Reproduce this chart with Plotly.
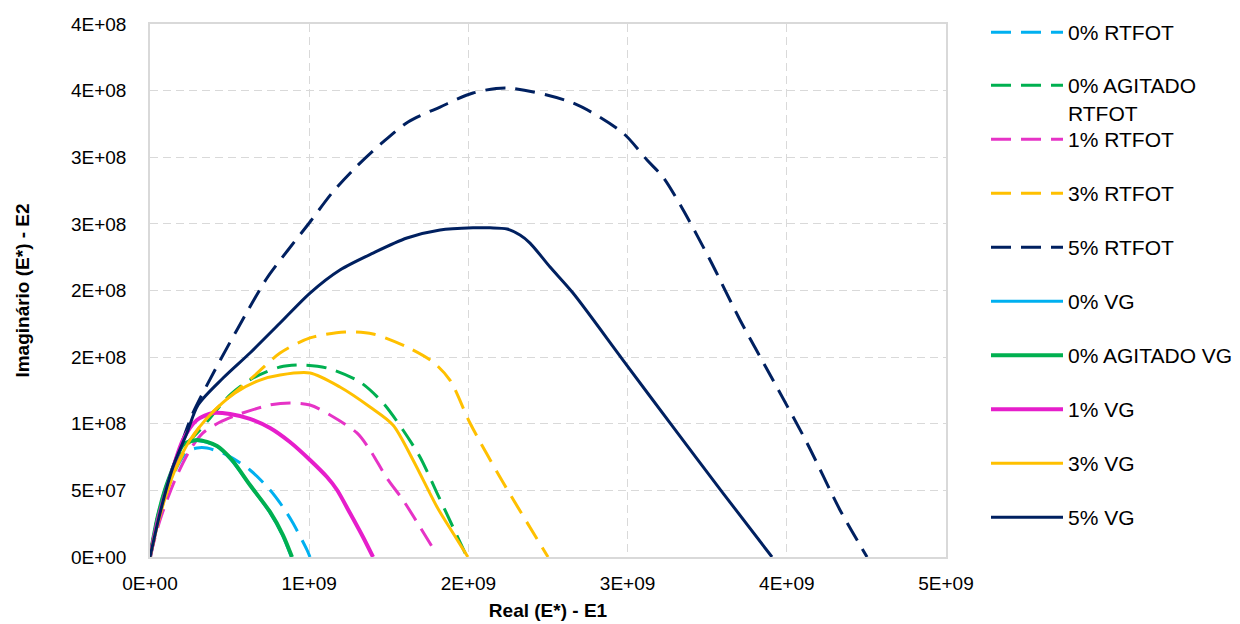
import plotly.graph_objects as go

# ---- data (E1 real, E2 imaginary) ----
names = ["0% RTFOT", "0% AGITADO<br>RTFOT", "1% RTFOT", "3% RTFOT", "5% RTFOT",
         "0% VG", "0% AGITADO VG", "1% VG", "3% VG", "5% VG"]
colors = ["#00B0F0", "#00B050", "#E633C6", "#FFC000", "#002060",
          "#00B0F0", "#00B050", "#E61ECB", "#FFC000", "#002060"]

e1_0_rtfot = [0, 4.4e7, 1.07e8, 1.76e8, 2.32e8, 2.95e8, 3.58e8, 4.84e8, 6.28e8, 7.54e8, 8.35e8, 8.98e8, 9.86e8, 1.005e9]
e2_0_rtfot = [0, 2.63e7, 5.03e7, 6.90e7, 7.88e7, 8.18e7, 8.18e7, 7.65e7, 6.53e7, 5.03e7, 3.75e7, 2.55e7, 0.53e7, 0]

e1_0ag_rtfot = [0, 4.4e7, 1.0e8, 1.6e8, 2.3e8, 3.14e8, 5.03e8, 6.47e8, 8.17e8, 9.61e8, 1.112e9, 1.319e9, 1.464e9, 1.589e9, 1.696e9, 1.803e9, 1.903e9, 1.991e9]
e2_0ag_rtfot = [0, 2.8e7, 5.2e7, 7.2e7, 8.5e7, 9.53e7, 1.216e8, 1.343e8, 1.426e8, 1.441e8, 1.418e8, 1.313e8, 1.156e8, 9.53e7, 7.50e7, 4.80e7, 2.25e7, 0]

e1_1_rtfot = [0, 6.3e7, 1.57e8, 2.51e8, 3.33e8, 4.40e8, 5.46e8, 7.54e8, 8.79e8, 1.005e9, 1.131e9, 1.300e9, 1.382e9, 1.489e9, 1.589e9, 1.696e9, 1.784e9]
e2_1_rtfot = [0, 2.78e7, 5.78e7, 8.03e7, 9.31e7, 1.013e8, 1.066e8, 1.141e8, 1.156e8, 1.141e8, 1.066e8, 9.31e7, 8.03e7, 5.90e7, 4.28e7, 2.25e7, 0.53e7]

e1_3_rtfot = [0, 6.3e7, 1.38e8, 2.20e8, 3.45e8, 4.90e8, 6.47e8, 8.17e8, 1.005e9, 1.225e9, 1.401e9, 1.614e9, 1.778e9, 1.884e9, 2.010e9, 2.198e9, 2.500e9]
e2_3_rtfot = [0, 3.15e7, 5.93e7, 8.03e7, 1.028e8, 1.193e8, 1.351e8, 1.531e8, 1.644e8, 1.689e8, 1.674e8, 1.576e8, 1.463e8, 1.328e8, 1.006e8, 6.00e7, 0]

e1_5_rtfot = [0, 3.1e7, 7.5e7, 1.38e8, 2.01e8, 2.70e8, 4.08e8, 5.53e8, 7.35e8, 8.67e8, 1.005e9, 1.143e9, 1.288e9, 1.457e9, 1.621e9, 1.822e9, 2.029e9, 2.243e9, 2.657e9, 2.971e9, 3.122e9, 3.222e9, 3.342e9, 3.518e9, 3.706e9, 3.913e9, 4.127e9, 4.334e9, 4.504e9]
e2_5_rtfot = [0, 2.03e7, 4.28e7, 6.53e7, 8.63e7, 1.081e8, 1.403e8, 1.719e8, 2.094e8, 2.304e8, 2.514e8, 2.732e8, 2.919e8, 3.107e8, 3.265e8, 3.377e8, 3.482e8, 3.520e8, 3.407e8, 3.182e8, 2.979e8, 2.852e8, 2.619e8, 2.229e8, 1.779e8, 1.328e8, 8.56e7, 3.53e7, 0]

e1_0_vg = [0, 4.4e7, 9.4e7, 1.57e8, 2.07e8, 2.90e8, 4.15e8, 5.10e8, 6.25e8, 7.50e8, 8.30e8, 8.88e8]
e2_0_vg = [0, 2.78e7, 5.03e7, 7.05e7, 8.41e7, 8.75e7, 8.35e7, 7.28e7, 5.45e7, 3.40e7, 1.70e7, 0]

e1_0ag_vg = [0, 4.4e7, 9.4e7, 1.57e8, 2.07e8, 2.95e8, 4.21e8, 5.15e8, 6.28e8, 7.54e8, 8.35e8, 8.92e8]
e2_0ag_vg = [0, 2.78e7, 5.03e7, 7.05e7, 8.41e7, 8.78e7, 8.33e7, 7.28e7, 5.40e7, 3.38e7, 1.65e7, 0]

e1_1_vg = [0, 5.0e7, 1.13e8, 2.07e8, 2.95e8, 3.96e8, 5.03e8, 6.28e8, 7.54e8, 8.79e8, 1.005e9, 1.112e9, 1.175e9, 1.256e9, 1.338e9, 1.401e9]
e2_1_vg = [0, 2.78e7, 5.40e7, 8.78e7, 1.028e8, 1.081e8, 1.073e8, 1.036e8, 9.68e7, 8.63e7, 7.28e7, 6.00e7, 5.03e7, 3.30e7, 1.50e7, 0]

e1_3_vg = [0, 6.3e7, 1.57e8, 2.51e8, 3.77e8, 5.34e8, 6.91e8, 8.17e8, 1.005e9, 1.193e9, 1.382e9, 1.526e9, 1.652e9, 1.803e9, 1.903e9, 1.997e9]
e2_3_vg = [0, 3.15e7, 6.53e7, 8.78e7, 1.066e8, 1.231e8, 1.328e8, 1.366e8, 1.381e8, 1.276e8, 1.126e8, 9.91e7, 7.28e7, 3.75e7, 1.80e7, 0]

e1_5_vg = [0, 6.3e7, 1.44e8, 2.32e8, 3.02e8, 4.59e8, 6.28e8, 8.17e8, 1.005e9, 1.193e9, 1.401e9, 1.614e9, 1.822e9, 2.029e9, 2.136e9, 2.243e9, 2.324e9, 2.387e9, 2.513e9, 2.657e9, 2.971e9, 3.285e9, 3.599e9, 3.907e9]
e2_5_vg = [0, 3.30e7, 6.75e7, 9.31e7, 1.141e8, 1.343e8, 1.531e8, 1.756e8, 1.981e8, 2.154e8, 2.281e8, 2.394e8, 2.454e8, 2.470e8, 2.470e8, 2.462e8, 2.416e8, 2.356e8, 2.176e8, 1.981e8, 1.478e8, 9.76e7, 4.80e7, 0]

xs = [e1_0_rtfot, e1_0ag_rtfot, e1_1_rtfot, e1_3_rtfot, e1_5_rtfot,
      e1_0_vg, e1_0ag_vg, e1_1_vg, e1_3_vg, e1_5_vg]
ys = [e2_0_rtfot, e2_0ag_rtfot, e2_1_rtfot, e2_3_rtfot, e2_5_rtfot,
      e2_0_vg, e2_0ag_vg, e2_1_vg, e2_3_vg, e2_5_vg]
dashed = [True, True, True, True, True, False, False, False, False, False]
widths = [3, 3, 3, 3, 3, 3, 4, 4, 3, 3]

x_tickvals = [0, 1e9, 2e9, 3e9, 4e9, 5e9]
x_ticktext = ["0E+00", "1E+09", "2E+09", "3E+09", "4E+09", "5E+09"]
y_tickvals = [0, 5e7, 1e8, 1.5e8, 2e8, 2.5e8, 3e8, 3.5e8, 4e8]
y_ticktext = ["0E+00", "5E+07", "1E+08", "2E+08", "2E+08", "3E+08", "3E+08", "4E+08", "4E+08"]

# legend item centre positions (pixels from top of the window)
legend_centres = [33, 86, 140, 194, 248, 302, 356, 410, 464, 518]

FONT = "Arial, Liberation Sans, sans-serif"
PAGE_OFFSET = 8  # default body margin of the page
W, H = 1240 - PAGE_OFFSET, 624 - PAGE_OFFSET
ML, MR, MT, MB = 150 - PAGE_OFFSET, 294, 24 - PAGE_OFFSET, 67

fig = go.Figure()
layout_legends = {}
ph = H - MT - MB
pw = W - ML - MR
for i in range(len(names)):
    lname = "legend" if i == 0 else f"legend{i+1}"
    fig.add_trace(go.Scatter(
        x=xs[i], y=ys[i], mode="lines", name=names[i],
        line=dict(color=colors[i], width=widths[i], shape="spline", smoothing=0.8,
                  dash="20px,10px" if dashed[i] else "solid"),
        legend=lname, showlegend=True, hoverinfo="x+y+name"))
    ypaper = (H - MB - (legend_centres[i] - PAGE_OFFSET - 21)) / ph
    layout_legends[lname] = dict(
        x=(986 - PAGE_OFFSET - ML) / pw, xanchor="left",
        y=ypaper, yanchor="top", valign="top",
        font=dict(family=FONT, size=21, color="#000000"),
        bgcolor="rgba(0,0,0,0)", itemwidth=72, borderwidth=0)

fig.update_layout(
    width=W, height=H, autosize=False,
    margin=dict(l=ML, r=MR, t=MT, b=MB, autoexpand=False),
    paper_bgcolor="white", plot_bgcolor="white",
    font=dict(family=FONT, size=19, color="#000000"),
    **layout_legends,
)
fig.update_xaxes(
    range=[0, 5e9], tickvals=x_tickvals, ticktext=x_ticktext, automargin=False,
    showgrid=True, gridcolor="#D9D9D9", gridwidth=1.3, griddash="8px,5px",
    showline=True, linecolor="#D9D9D9", linewidth=1.5, mirror=True,
    zeroline=False, ticks="", ticklabelstandoff=8,
    tickfont=dict(family=FONT, size=19, color="#000000"),
    title=dict(text="<b>Real (E*) - E1</b>", font=dict(family=FONT, size=19, color="#000000"), standoff=11),
)
fig.update_yaxes(
    range=[0, 4e8], tickvals=y_tickvals, ticktext=y_ticktext, automargin=False,
    showgrid=True, gridcolor="#D9D9D9", gridwidth=1.3, griddash="8px,5px",
    showline=True, linecolor="#D9D9D9", linewidth=1.5, mirror=True,
    zeroline=False, ticks="", ticklabelstandoff=18,
    tickfont=dict(family=FONT, size=19, color="#000000"),
    title=dict(text="<b>Imaginário (E*) - E2</b>", font=dict(family=FONT, size=19, color="#000000"), standoff=36),
)

fig.write_html("out.html")
